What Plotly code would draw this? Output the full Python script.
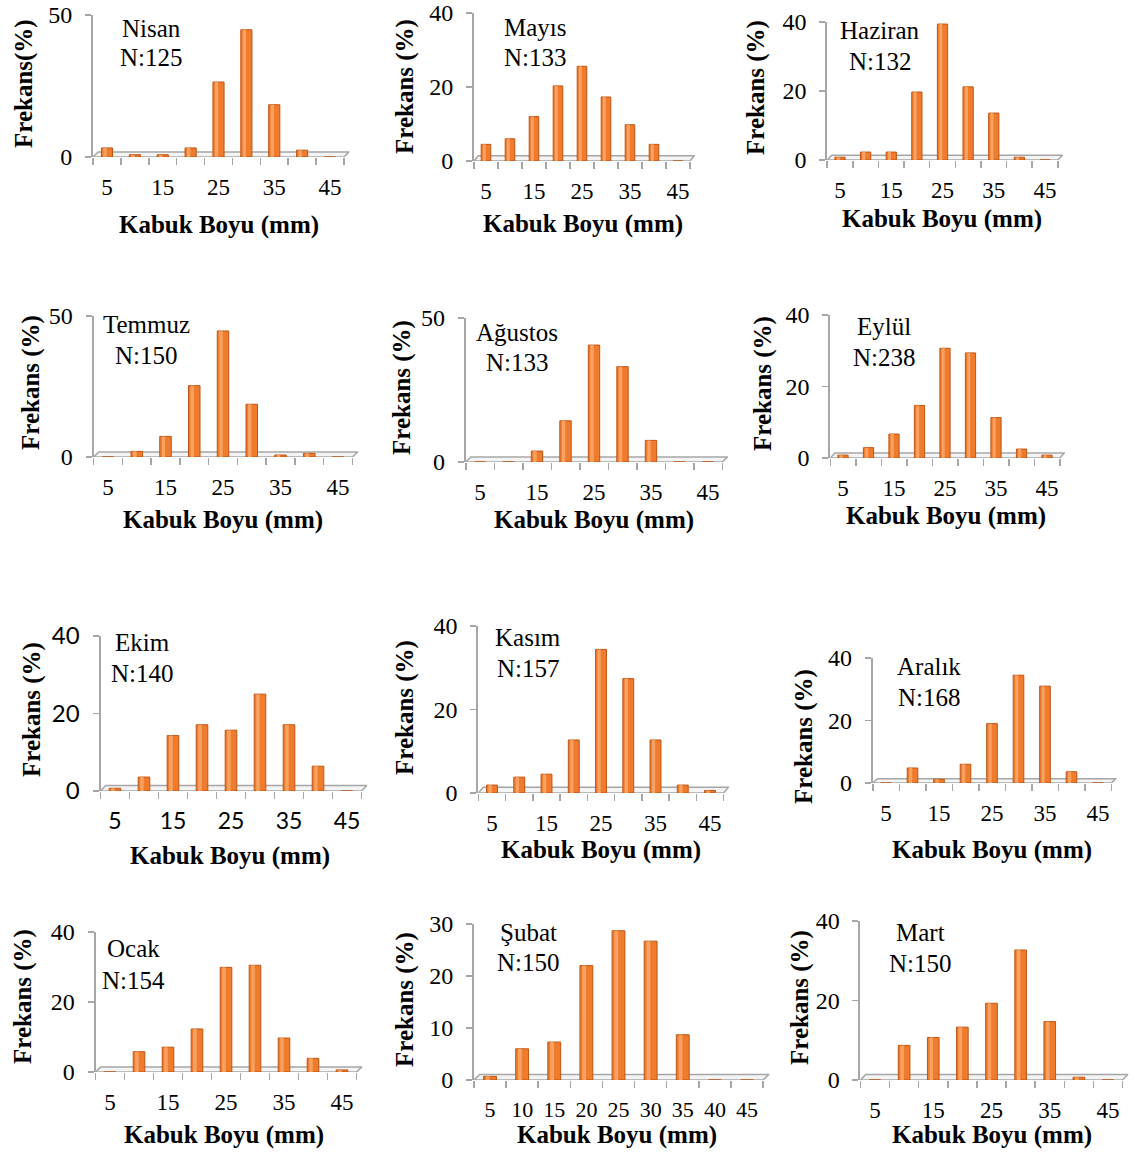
import plotly.graph_objects as go

# ---------------- data ----------------
sizes = [5, 10, 15, 20, 25, 30, 35, 40, 45]
months = ["Nisan", "Mayıs", "Haziran", "Temmuz", "Ağustos", "Eylül",
          "Ekim", "Kasım", "Aralık", "Ocak", "Şubat", "Mart"]
counts = [125, 133, 132, 150, 133, 238, 140, 157, 168, 154, 150, 150]

nisan   = [3.2, 0.8, 0.8, 3.2, 26.4, 44.8, 18.4, 2.4, 0.0]
mayis   = [4.5, 6.0, 12.0, 20.3, 25.6, 17.3, 9.8, 4.5, 0.0]
haziran = [0.8, 2.3, 2.3, 19.7, 39.4, 21.2, 13.6, 0.8, 0.0]
temmuz  = [0.0, 2.0, 7.3, 25.3, 44.7, 18.7, 0.7, 1.3, 0.0]
agustos = [0.0, 0.0, 3.8, 14.3, 40.6, 33.1, 7.5, 0.0, 0.0]
eylul   = [0.8, 2.9, 6.7, 14.7, 30.7, 29.4, 11.3, 2.5, 0.8]
ekim    = [0.7, 3.6, 14.3, 17.1, 15.7, 25.0, 17.1, 6.4, 0.0]
kasim   = [1.9, 3.8, 4.5, 12.7, 34.4, 27.4, 12.7, 1.9, 0.6]
aralik  = [0.0, 4.8, 1.2, 6.0, 19.0, 34.5, 31.0, 3.6, 0.0]
ocak    = [0.0, 5.8, 7.1, 12.3, 29.9, 30.5, 9.7, 3.9, 0.6]
subat   = [0.7, 6.0, 7.3, 22.0, 28.7, 26.7, 8.7, 0.0, 0.0]
mart    = [0.0, 8.7, 10.7, 13.3, 19.3, 32.7, 14.7, 0.7, 0.0]
series = [nisan, mayis, haziran, temmuz, agustos, eylul,
          ekim, kasim, aralik, ocak, subat, mart]

y_max = [50, 40, 40, 50, 50, 40, 40, 40, 40, 40, 30, 40]
y_tickvals = [[0, 50], [0, 20, 40], [0, 20, 40], [0, 50], [0, 50], [0, 20, 40],
              [0, 20, 40], [0, 20, 40], [0, 20, 40], [0, 20, 40], [0, 10, 20, 30], [0, 20, 40]]
x_tick_odd = [5, 15, 25, 35, 45]
x_tick_all = [5, 10, 15, 20, 25, 30, 35, 40, 45]
y_titles = ["Frekans(%)"] + ["Frekans (%)"] * 11
x_title = "Kabuk Boyu (mm)"

# ---------------- layout geometry (pixels) ----------------
W, H = 1143, 1154
# x5, x45, y_zero, y_top, ytitle_x, ytitle_y, xtitle_x, xtitle_y, lab_x, lab_y1, lab_y2
geom = [
    (107, 330, 157, 15, 24, 84, 219, 225, 151, 28, 57),
    (486, 678, 161, 13, 405, 87, 583, 224, 535, 27, 57),
    (840, 1045, 160, 22, 756, 88, 942, 219, 880, 30, 61),
    (108, 338, 457, 316, 31, 383, 223, 520, 146, 324, 355),
    (480, 708, 462, 318, 402, 388, 594, 520, 517, 332, 362),
    (843, 1047, 458, 315, 763, 384, 946, 516, 884, 326, 357),
    (115, 347, 791, 636, 32, 710, 230, 856, 142, 642, 673),
    (492, 710, 793, 626, 405, 708, 601, 850, 528, 637, 668),
    (886, 1098, 783, 658, 804, 737, 992, 850, 929, 666, 697),
    (110, 342, 1072, 932, 23, 997, 224, 1135, 133, 949, 980),
    (490, 747, 1080, 924, 405, 1000, 617, 1135, 528, 932, 962),
    (875, 1108, 1080, 921, 800, 998, 992, 1135, 920, 933, 963),
]

SERIF = "Liberation Serif"
SANS = "Lato"
ORANGE = "#EF7B2D"
HILITE = "#F9A161"
EDGE = "#BF5515"
GRAY = "#A6A6A6"

fig = go.Figure()
shapes = []
annotations = []

for i in range(12):
    n = i + 1
    xa = "x" if n == 1 else f"x{n}"
    ya = "y" if n == 1 else f"y{n}"
    xkey = "xaxis" if n == 1 else f"xaxis{n}"
    ykey = "yaxis" if n == 1 else f"yaxis{n}"
    x5, x45, yz, yt, ytx, yty, xtx, xty, lx, ly1, ly2 = geom[i]
    ppu = (x45 - x5) / 40.0
    xl = x5 - 2.5 * ppu
    xr = xl + 46 * ppu
    tick_font_family = SANS if months[i] == "Ekim" else SERIF

    fig.add_trace(go.Bar(
        x=sizes, y=series[i], xaxis=xa, yaxis=ya, width=2.0,
        marker=dict(color=ORANGE, line=dict(color=EDGE, width=1)),
        showlegend=False, hoverinfo="skip",
    ))
    # highlight stripe to mimic the cylindrical shading
    fig.add_trace(go.Bar(
        x=sizes, y=series[i], xaxis=xa, yaxis=ya, width=0.6, offset=-0.65,
        marker=dict(color=HILITE, line=dict(width=0)),
        showlegend=False, hoverinfo="skip",
    ))

    fig.layout[xkey] = dict(
        domain=[xl / W, xr / W], anchor=ya, range=[2.5, 48.5],
        showline=False, showgrid=False, zeroline=False, automargin=False,
        tickmode="array",
        tickvals=x_tick_all if months[i] == "Şubat" else x_tick_odd,
        ticks="", ticklabelstandoff=14, ticklabeloverflow="allow",
        tickfont=dict(family=tick_font_family,
                      size=22 if months[i] == "Şubat" else 23, color="black"),
        minor=dict(tick0=2.5, dtick=5, ticks="outside", ticklen=7,
                   tickcolor=GRAY, tickwidth=1.5, showgrid=False),
        fixedrange=True,
    )
    fig.layout[ykey] = dict(
        domain=[1 - yz / H, 1 - yt / H], anchor=xa, range=[0, y_max[i]],
        showline=True, linecolor=GRAY, linewidth=2, automargin=False,
        showgrid=False, zeroline=False,
        tickmode="array", tickvals=y_tickvals[i],
        ticks="outside", ticklen=6, tickcolor=GRAY, tickwidth=1.5,
        ticklabelstandoff=8, ticklabeloverflow="allow",
        tickfont=dict(family=tick_font_family, size=24, color="black"),
        fixedrange=True,
    )

    d = 0.035 * y_max[i]
    shapes.append(dict(
        type="path", xref=xa, yref=ya, layer="below",
        path=f"M 2.5,0 L 47.5,0 L 48.4,{d} L 3.4,{d} Z",
        fillcolor="#F4F4F4", line=dict(color=GRAY, width=1.5),
    ))

    annotations.append(dict(
        xref="paper", yref="paper", x=ytx / W, y=1 - yty / H,
        text=f"<b>{y_titles[i]}</b>", textangle=-90, showarrow=False,
        xanchor="center", yanchor="middle",
        font=dict(family=SERIF, size=25, color="black"),
    ))
    annotations.append(dict(
        xref="paper", yref="paper", x=xtx / W, y=1 - xty / H,
        text=f"<b>{x_title}</b>", showarrow=False,
        xanchor="center", yanchor="middle",
        font=dict(family=SERIF, size=25, color="black"),
    ))
    annotations.append(dict(
        xref="paper", yref="paper", x=lx / W, y=1 - ly1 / H,
        text=months[i], showarrow=False, xanchor="center", yanchor="middle",
        font=dict(family=SERIF, size=25, color="black"),
    ))
    annotations.append(dict(
        xref="paper", yref="paper", x=lx / W, y=1 - ly2 / H,
        text=f"N:{counts[i]}", showarrow=False, xanchor="center", yanchor="middle",
        font=dict(family=SERIF, size=25, color="black"),
    ))

fig.update_layout(
    width=W, height=H,
    margin=dict(l=0, r=0, t=0, b=0, pad=0, autoexpand=False),
    paper_bgcolor="white", plot_bgcolor="white",
    barmode="overlay", shapes=shapes, annotations=annotations,
    showlegend=False,
)

fig.write_html("out.html",
               config={"displayModeBar": False, "staticPlot": True},
               post_script="document.body.style.margin='0';document.body.style.padding='0';")
